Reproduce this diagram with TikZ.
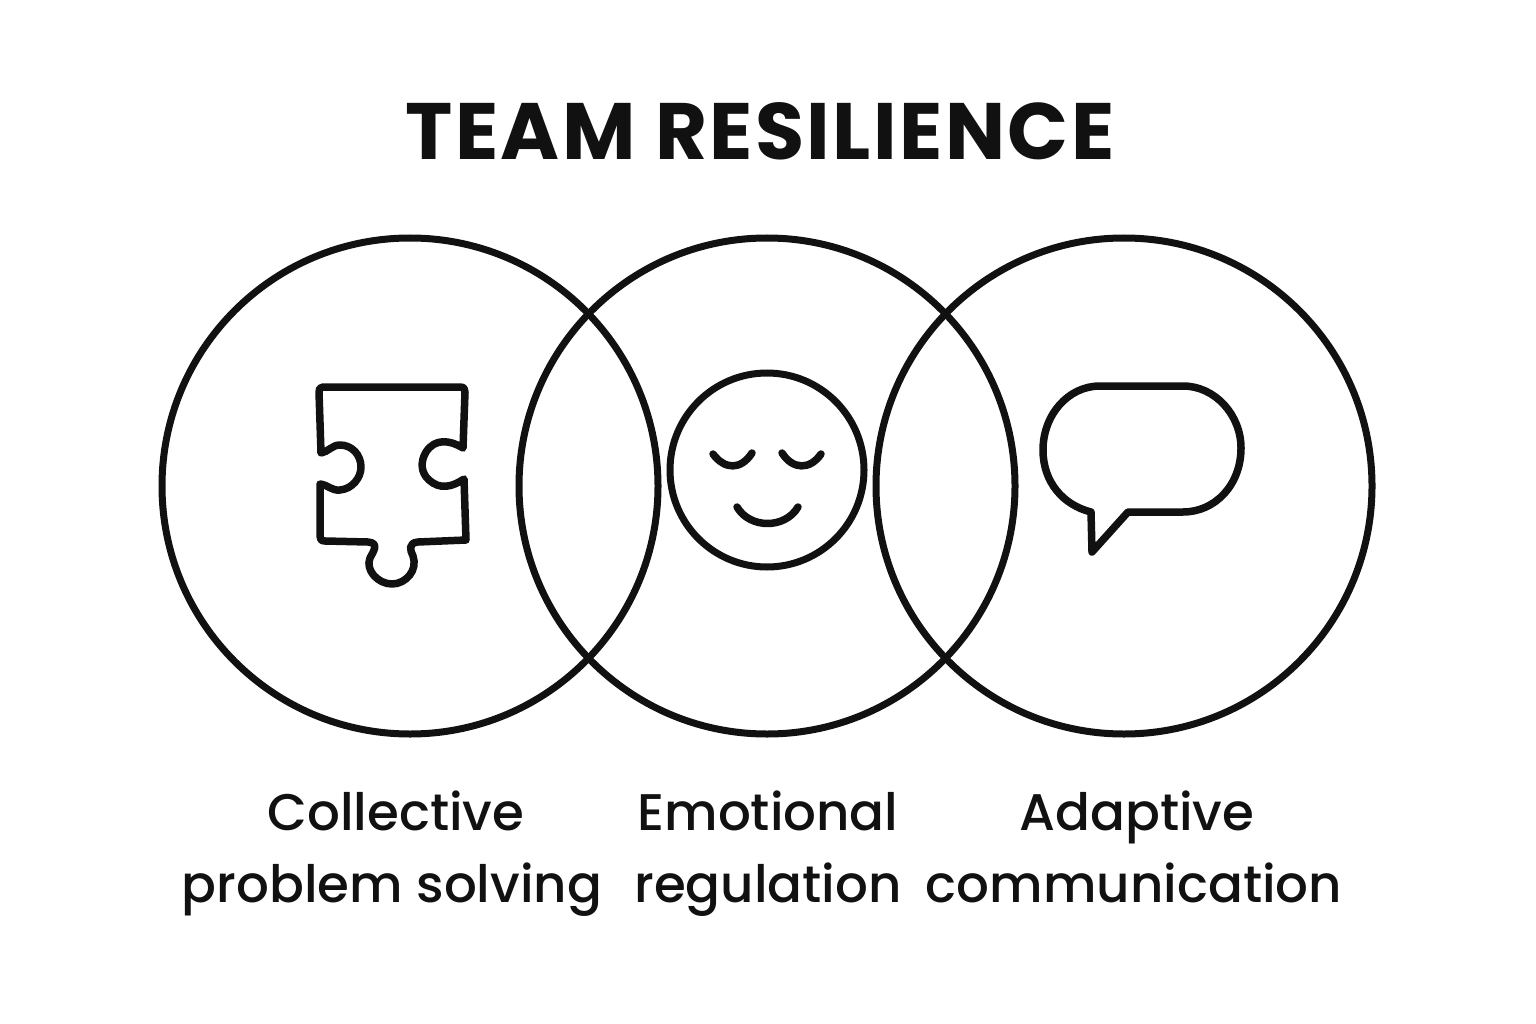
\documentclass[tikz,border=0pt]{standalone}
\usepackage{fontspec}
\setmainfont{Poppins}
\newfontfamily\labelfont{Poppins Medium}
\newfontfamily\titlefont[LetterSpace=3]{Poppins}
\definecolor{ink}{HTML}{111111}
\tikzset{
  ring/.style={draw=ink,line width=7pt},
  icon/.style={draw=ink,line width=7.5pt,line join=round,line cap=round},
  label/.style={text=ink,font=\labelfont\fontsize{51.5}{70}\selectfont,align=center,inner sep=0pt,anchor=base},
  titletext/.style={text=ink,font=\titlefont\fontsize{80}{90}\selectfont\bfseries,inner sep=0pt,anchor=base}
}
\begin{document}
\begin{tikzpicture}[x=1pt,y=-1pt]
\useasboundingbox (0,0) rectangle (1536,1024);
\node[titletext] (title) at (760,160) {TEAM RESILIENCE};
\draw[ring] (410,486) circle[radius=248];
\draw[ring] (767,486) circle[radius=248];
\draw[ring] (1124,486) circle[radius=248];
% puzzle
\draw[icon] (323,387) -- (460,387) .. controls (464,387) and (465,389) .. (465,392)
 -- (463,448) .. controls (450,440) and (435,438) .. (426,452)
 .. controls (420,462) and (421,473) .. (429,480)
 .. controls (440,490) and (452,487) .. (464,479)
 -- (466,540) -- (418,542) .. controls (408,543) and (410,550) .. (413,556)
 .. controls (418,570) and (406,584) .. (392,584)
 .. controls (378,584) and (365,570) .. (370,558)
 .. controls (373,552) and (380,543) .. (368,542)
 -- (325,541) .. controls (321,541) and (320,539) .. (320,536)
 -- (320,484) .. controls (328,485) and (332,491) .. (340,490)
 .. controls (352,489) and (361,478) .. (361,467)
 .. controls (361,455) and (352,445) .. (340,445)
 .. controls (332,445) and (328,452) .. (321,453)
 -- (319,392) .. controls (319,389) and (320,387) .. (323,387) -- cycle;
% face
\draw[ring] (767,470) circle[radius=97];
\draw[icon] (713,454) .. controls (725,470) and (741,470) .. (752,453);
\draw[icon] (782,453) .. controls (793,470) and (810,470) .. (821,454);
\draw[icon] (737,507) .. controls (750,529) and (785,529) .. (798,507);
% speech bubble
\draw[icon] (1100,386) -- (1183,386)
 .. controls (1215,386) and (1241,415) .. (1241,448)
 .. controls (1241,485) and (1215,512) .. (1183,512)
 -- (1128,512) -- (1092,552) -- (1091,512)
 .. controls (1063,505) and (1043,482) .. (1043,450)
 .. controls (1043,415) and (1068,386) .. (1100,386) -- cycle;
% labels
\node[label] (a1) at (396,830) {Collective};
\node[label] (a2) at (392,902) {problem solving};
\node[label] (b1) at (768,830) {Emotional};
\node[label] (b2) at (768,902) {regulation};
\node[label] (c1) at (1137,830) {Adaptive};
\node[label] (c2) at (1134,902) {communication};
\end{tikzpicture}
\end{document}
